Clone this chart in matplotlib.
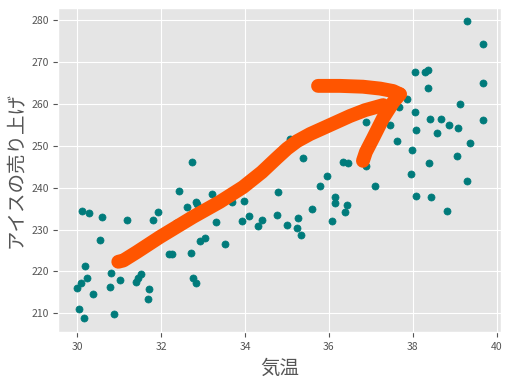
import numpy as np
import matplotlib.pyplot as plt

plt.style.use('ggplot')
plt.rcParams['font.family'] = ['Noto Sans CJK JP', 'DejaVu Sans']

# temperature / ice cream sales
temp = [32.74, 32.43, 33.22, 32.62, 32.84, 32.86, 30.12, 30.29, 30.59, 31.19,
        31.81, 31.92, 32.35, 33.31, 30.55, 32.19, 32.27, 32.93, 33.05, 32.72,
        30.19, 30.24, 30.10, 30.00, 30.38, 30.81, 30.79, 31.03, 31.53, 31.46,
        31.40, 31.72, 31.69, 30.05, 30.17, 30.88, 32.77, 32.83,
        33.53, 33.68, 33.97, 33.93, 34.10, 34.32, 34.41, 34.79, 34.77, 35.01,
        35.23, 35.26, 35.34, 35.60, 35.39, 35.79, 35.95, 36.15, 36.15, 36.08,
        36.43, 36.38, 36.34, 36.46, 35.07,
        39.29, 39.67, 38.06, 38.30, 38.37, 38.36, 39.66, 37.87, 37.68, 38.04,
        39.13, 38.41, 38.67, 38.85, 39.08, 39.66, 38.08, 38.58, 36.89, 37.46,
        37.61, 37.99, 39.35, 39.05, 38.39, 36.89, 37.10, 37.96, 39.30, 38.08,
        38.42, 38.82]
sales = [246.2, 239.1, 238.4, 235.3, 236.6, 236.0, 234.4, 233.9, 232.9, 232.2,
         232.2, 234.1, 231.6, 231.8, 227.4, 224.1, 224.1, 227.2, 227.9, 224.4,
         221.2, 218.4, 217.2, 216.0, 214.7, 219.5, 216.2, 217.9, 219.3, 218.4,
         217.5, 215.8, 213.3, 211.0, 208.8, 209.8, 218.4, 217.2,
         226.5, 236.5, 236.8, 232.0, 233.2, 230.8, 232.3, 239.0, 233.5, 231.1,
         230.3, 232.7, 228.6, 234.9, 247.0, 240.5, 242.8, 237.8, 236.3, 232.0,
         235.8, 234.1, 246.2, 245.9, 251.6,
         279.7, 274.2, 267.5, 267.6, 268.2, 263.7, 265.0, 261.1, 259.3, 258.0,
         259.9, 256.5, 256.5, 254.9, 254.2, 256.1, 253.7, 253.0, 255.6, 254.9,
         251.1, 248.9, 250.6, 247.5, 246.0, 245.2, 240.3, 243.2, 241.5, 238.0,
         237.7, 234.3]

# hand drawn arrow strokes
main_x = [30.98, 31.10, 31.42, 31.97, 32.76, 33.40, 33.95, 34.40, 34.76,
          35.00, 35.24, 35.55, 35.86, 36.50, 36.86, 37.29]
main_y = [222.3, 222.6, 224.6, 228.2, 233.0, 236.6, 240.1, 243.7, 247.1,
          249.3, 251.1, 252.8, 254.2, 257.1, 258.5, 259.7]
upper_x = [35.74, 36.26, 36.81, 37.22, 37.53, 37.69]
upper_y = [264.3, 264.3, 264.1, 263.65, 263.06, 262.3]
lower_x = [37.69, 37.53, 37.29, 37.05, 36.88, 36.81]
lower_y = [262.3, 260.4, 256.6, 251.8, 248.5, 246.4]

fig = plt.figure(figsize=(5.1, 3.8), dpi=100)
ax = fig.add_axes([0.1143, 0.1255, 0.8681, 0.8535])

ax.scatter(temp, sales, s=26, color='#007b7b', zorder=3)

for xs, ys in [(main_x, main_y), (upper_x, upper_y), (lower_x, lower_y)]:
    ax.plot(xs, ys, color='#ff5500', lw=10, solid_capstyle='round',
            solid_joinstyle='round', zorder=4)

ax.set_xlim(29.55, 40.1)
ax.set_ylim(205.45, 282.9)
ax.set_xticks([30, 32, 34, 36, 38, 40])
ax.set_yticks([210, 220, 230, 240, 250, 260, 270, 280])
ax.tick_params(labelsize=7.5, colors='#555555')

ax.set_xlabel('気温', fontsize=14, color='#555555')
ax.set_ylabel('アイスの売り上げ', fontsize=14, color='#555555')

fig.savefig('out.png', dpi=100)
